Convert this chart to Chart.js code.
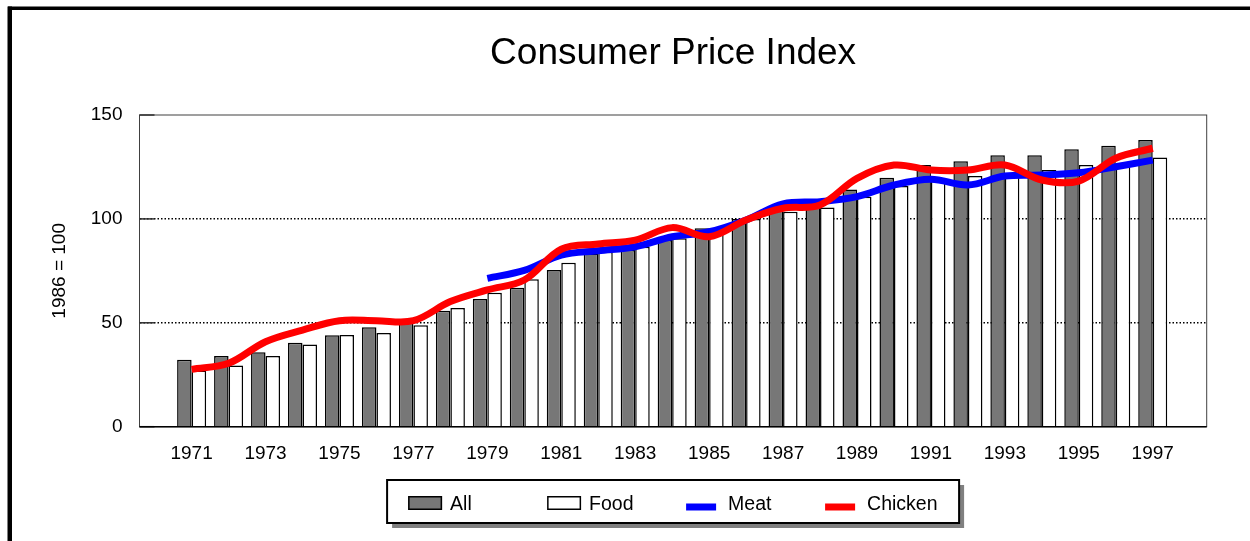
<!DOCTYPE html>
<html>
<head>
<meta charset="utf-8">
<script src="https://cdn.jsdelivr.net/npm/chart.js@4/dist/chart.umd.min.js"></script>
<style>
html,body{margin:0;padding:0;background:#fff;}
#wrap{width:1250px;height:541px;position:relative;}
</style>
</head>
<body>
<div id="wrap"><canvas id="c" width="1250" height="541"></canvas></div>
<script>
const years = [1971,1972,1973,1974,1975,1976,1977,1978,1979,1980,1981,1982,1983,1984,1985,1986,1987,1988,1989,1990,1991,1992,1993,1994,1995,1996,1997];
const tickYears = [1971,1973,1975,1977,1979,1981,1983,1985,1987,1989,1991,1993,1995,1997];
const yTicks = [0,50,100,150];
const seriesNames = ['All','Food','Meat','Chicken'];
const titleText = 'Consumer Price Index';
const yAxisTitle = '1986 = 100';

const allValues = [32.2,34.0,35.8,40.4,44.0,47.8,50.2,55.8,61.5,66.9,75.4,83.3,85.0,89.8,95.5,100.0,104.5,106.0,114.2,119.8,125.9,127.7,130.6,130.6,133.5,135.2,138.0];
const foodValues = [27.0,29.4,34.0,39.5,44.1,45.1,48.8,57.1,64.5,70.9,78.9,84.2,86.6,90.7,92.5,100.0,103.5,105.5,110.7,115.8,118.7,120.6,121.0,123.5,125.9,127.0,129.6];
const meatValues = [null,null,null,null,null,null,null,null,71.4,75.2,82.6,84.7,86.6,91.4,93.8,99.5,107.2,108.3,110.7,116.3,119.1,116.3,120.6,121.1,122.2,125.1,128.3];
const chickenValues = [27.6,30.5,40.9,46.5,51.0,51.0,51.0,60.2,65.8,70.6,85.4,87.9,89.8,95.8,91.4,99.5,105.1,106.7,119.5,125.9,123.5,123.5,125.9,118.7,118.2,129.2,134.0];

const FONT = '"Liberation Sans", Arial, Helvetica, sans-serif';
const pts = vals => years.map((yr, i) => ({x: yr, y: vals[i]}));

const backgroundPlugin = {
  id: 'bgFrame',
  beforeDraw(chart) {
    const {ctx, width, height} = chart;
    ctx.save();
    ctx.fillStyle = '#ffffff';
    ctx.fillRect(0, 0, width, height);
    ctx.fillStyle = '#000000';
    ctx.fillRect(8, 6.5, width, 3.5);
    ctx.fillRect(7.5, 6.5, 4.5, height);
    ctx.restore();
  }
};

const plotFramePlugin = {
  id: 'plotFrame',
  beforeDatasetsDraw(chart) {
    const {ctx, chartArea: a, scales} = chart;
    ctx.save();
    ctx.strokeStyle = '#404040';
    ctx.lineWidth = 1;
    ctx.strokeRect(a.left, a.top, a.right - a.left, a.bottom - a.top);
    ctx.lineWidth = 1.5;
    ctx.strokeStyle = '#303030';
    yTicks.forEach(v => {
      const py = scales.y.getPixelForValue(v);
      ctx.beginPath();
      ctx.moveTo(a.left, py);
      ctx.lineTo(a.left + 15, py);
      ctx.stroke();
    });
    ctx.restore();
  },
  afterDatasetsDraw(chart) {
    const {ctx, chartArea: a} = chart;
    ctx.save();
    ctx.strokeStyle = '#000';
    ctx.lineWidth = 1.5;
    ctx.beginPath();
    ctx.moveTo(a.left, a.bottom);
    ctx.lineTo(a.right, a.bottom);
    ctx.stroke();
    ctx.restore();
  }
};

const legendPlugin = {
  id: 'boxLegend',
  afterDraw(chart) {
    const {ctx, chartArea} = chart;
    const cfg = {width: 572, height: 43, top: 480, pad: 21, step: 139, gap: 42, shadow: 5};
    const cx = (chartArea.left + chartArea.right) / 2;
    const left = cx - cfg.width / 2;
    ctx.save();
    ctx.fillStyle = '#808080';
    ctx.fillRect(left + cfg.shadow, cfg.top + cfg.shadow, cfg.width, cfg.height);
    ctx.fillStyle = '#ffffff';
    ctx.fillRect(left, cfg.top, cfg.width, cfg.height);
    ctx.lineWidth = 2;
    ctx.strokeStyle = '#000';
    ctx.strokeRect(left, cfg.top, cfg.width, cfg.height);
    ctx.font = '19.5px ' + FONT;
    ctx.textBaseline = 'alphabetic';
    ctx.textAlign = 'left';
    const baseY = cfg.top + 30;
    chart.data.datasets.forEach((ds, i) => {
      const x = left + cfg.pad + i * cfg.step;
      if (ds.type === 'bar') {
        ctx.fillStyle = ds.backgroundColor;
        ctx.fillRect(x, baseY - 14, 34, 14);
        ctx.lineWidth = 1.5;
        ctx.strokeStyle = '#000';
        ctx.strokeRect(x + 0.75, baseY - 14 + 0.75, 32.5, 12.5);
      } else {
        ctx.fillStyle = ds.borderColor;
        ctx.fillRect(x, baseY - 6.5, 30, 7);
      }
      ctx.fillStyle = '#000';
      ctx.fillText(ds.label, x + cfg.gap, baseY);
    });
    ctx.restore();
  }
};

new Chart(document.getElementById('c'), {
  type: 'bar',
  data: {
    datasets: [
      {type: 'bar', label: seriesNames[0], data: pts(allValues), backgroundColor: '#777777', borderColor: '#000000', borderWidth: 1.5, order: 2, categoryPercentage: 0.785, barPercentage: 1},
      {type: 'bar', label: seriesNames[1], data: pts(foodValues), backgroundColor: '#ffffff', borderColor: '#000000', borderWidth: 1.5, order: 3, categoryPercentage: 0.785, barPercentage: 1},
      {type: 'line', label: seriesNames[2], data: pts(meatValues), borderColor: '#0000ff', backgroundColor: '#0000ff', borderWidth: 7, pointRadius: 0, tension: 0.35, fill: false, order: 1},
      {type: 'line', label: seriesNames[3], data: pts(chickenValues), borderColor: '#ff0000', backgroundColor: '#ff0000', borderWidth: 7, pointRadius: 0, tension: 0.35, fill: false, order: 0}
    ]
  },
  options: {
    responsive: false,
    animation: false,
    devicePixelRatio: 1,
    layout: {padding: {left: 0, right: 43.3, top: 0, bottom: 54.3}},
    plugins: {
      legend: {display: false},
      tooltip: {enabled: false},
      title: {
        display: true,
        text: titleText,
        fullSize: false,
        color: '#000',
        font: {family: FONT, size: 37, weight: 'normal'},
        padding: {top: 32, bottom: 38.6}
      }
    },
    scales: {
      x: {
        type: 'linear',
        min: 1969.59,
        max: 1998.46,
        offset: false,
        grid: {display: false, offset: false, drawTicks: false},
        border: {display: false},
        afterBuildTicks: s => { s.ticks = tickYears.map(v => ({value: v})); },
        afterFit: s => { s.height = 60; },
        ticks: {
          autoSkip: false,
          maxRotation: 0,
          color: '#000',
          padding: 16,
          font: {family: FONT, size: 19},
          callback: v => String(v)
        }
      },
      y: {
        min: 0,
        max: 150,
        afterBuildTicks: s => { s.ticks = yTicks.map(v => ({value: v})); },
        afterFit: s => { s.width = 139.5; },
        grid: {
          drawTicks: false,
          lineWidth: 1.5,
          color: c => (c.tick && c.tick.value > c.scale.min && c.tick.value < c.scale.max) ? '#000000' : 'rgba(0,0,0,0)'
        },
        border: {display: false, dash: [1.5, 2]},
        ticks: {
          color: '#000',
          padding: 17,
          font: {family: FONT, size: 19}
        },
        title: {
          display: true,
          text: yAxisTitle,
          color: '#000',
          font: {family: FONT, size: 19},
          padding: {top: 48.6, bottom: 0}
        }
      }
    }
  },
  plugins: [backgroundPlugin, plotFramePlugin, legendPlugin]
});
</script>
</body>
</html>
